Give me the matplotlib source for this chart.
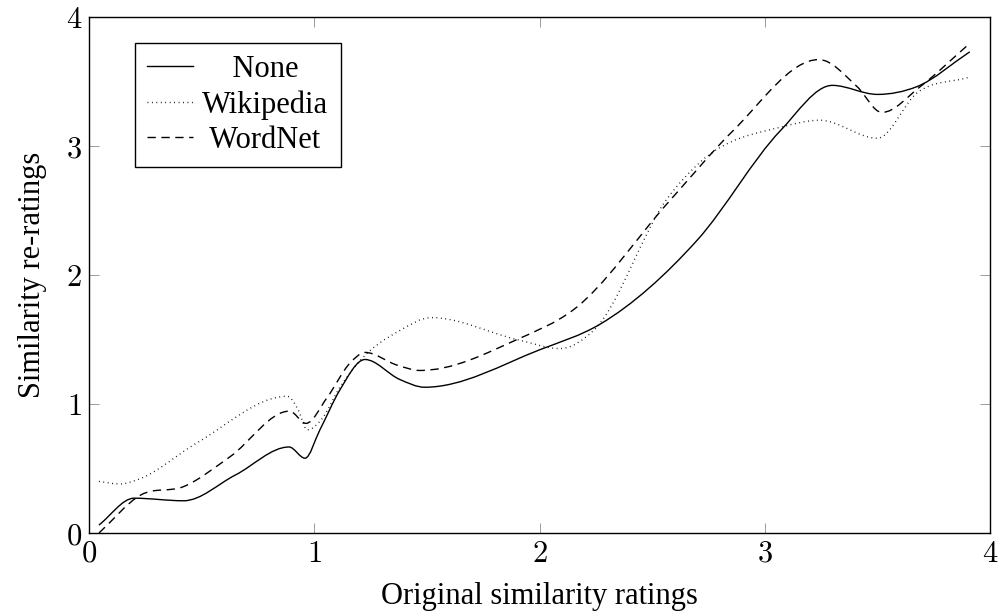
import numpy as np
import matplotlib
matplotlib.use("Agg")
from matplotlib import pyplot as plt
from matplotlib.path import Path
from matplotlib.patches import PathPatch
from matplotlib.lines import Line2D
from matplotlib.ticker import FuncFormatter

plt.rcParams['font.family'] = ['Liberation Serif', 'DejaVu Serif']
plt.rcParams['mathtext.fontset'] = 'cm'

# original rating (x) vs. re-rating (y) for each condition
none_x = [0.044, 0.20, 0.42, 0.65, 0.888, 0.959, 1.025, 1.114, 1.225, 1.38, 1.49, 2.00, 2.27, 2.70, 3.07, 3.30, 3.50, 3.675, 3.91]
none_y = [0.062, 0.27, 0.25, 0.45, 0.667, 0.58, 0.80, 1.11, 1.345, 1.19, 1.13, 1.42, 1.62, 2.27, 3.12, 3.47, 3.40, 3.46, 3.73]

wiki_x = [0.044, 0.14, 0.21, 0.48, 0.88, 0.93, 0.968, 1.03, 1.114, 1.20, 1.38, 1.52, 1.90, 2.09, 2.24, 2.57, 2.71, 3.08, 3.245, 3.50, 3.675, 3.90]
wiki_y = [0.40, 0.38, 0.41, 0.70, 1.06, 0.95, 0.80, 0.876, 1.13, 1.33, 1.57, 1.67, 1.50, 1.43, 1.57, 2.60, 2.87, 3.15, 3.20, 3.06, 3.41, 3.53]

wn_x = [0.044, 0.23, 0.42, 0.625, 0.89, 0.963, 1.057, 1.16, 1.225, 1.37, 1.47, 1.90, 2.15, 2.57, 2.86, 3.24, 3.41, 3.52, 3.69, 3.90]
wn_y = [0.0, 0.295, 0.36, 0.59, 0.945, 0.85, 1.05, 1.32, 1.40, 1.30, 1.26, 1.50, 1.73, 2.56, 3.12, 3.67, 3.46, 3.26, 3.46, 3.78]

labels = ['None', 'Wikipedia', 'WordNet']
ticks = [0, 1, 2, 3, 4]


def smooth_path(xs, ys):
    # cubic hermite segments as bezier curves; flat tangent at local extrema
    x = np.asarray(xs, float)
    y = np.asarray(ys, float)
    h = np.diff(x)
    d = np.diff(y) / h
    m = np.empty_like(x)
    m[0], m[-1] = d[0], d[-1]
    for i in range(1, len(x) - 1):
        if d[i - 1] * d[i] <= 0:
            m[i] = 0.0
        else:
            m[i] = (h[i - 1] * d[i] + h[i] * d[i - 1]) / (h[i - 1] + h[i])
    verts = [(x[0], y[0])]
    codes = [Path.MOVETO]
    for i in range(len(x) - 1):
        verts += [(x[i] + h[i] / 3, y[i] + m[i] * h[i] / 3),
                  (x[i + 1] - h[i] / 3, y[i + 1] - m[i + 1] * h[i] / 3),
                  (x[i + 1], y[i + 1])]
        codes += [Path.CURVE4] * 3
    return Path(verts, codes)


styles = [
    dict(linestyle='-'),
    dict(linestyle=(0, (0.6, 2.6))),
    dict(linestyle=(0, (6, 4))),
]

fig = plt.figure(figsize=(9.98, 6.16), dpi=100)
ax = fig.add_axes([0.0892, 0.1347, 0.9028, 0.8377])

handles = []
for (xs, ys), st, lab in zip([(none_x, none_y), (wiki_x, wiki_y), (wn_x, wn_y)], styles, labels):
    patch = PathPatch(smooth_path(xs, ys), fill=False, edgecolor='black', lw=1.0, **st)
    ax.add_patch(patch)
    handles.append(Line2D([], [], color='black', lw=1.0, **st))

ax.set_xlim(0, 4)
ax.set_ylim(0, 4)
ax.set_xticks(ticks)
ax.set_yticks(ticks)
fmt = FuncFormatter(lambda v, pos: r'$%d$' % v)
ax.xaxis.set_major_formatter(fmt)
ax.yaxis.set_major_formatter(fmt)
ax.tick_params(direction='in', length=7, width=0.6, color='0.55', labelsize=22,
               top=True, right=True, pad=5)
for s in ax.spines.values():
    s.set_linewidth(1.0)

ax.set_xlabel('Original similarity ratings', fontsize=22)
ax.set_ylabel('Similarity re-ratings', fontsize=22)
ax.xaxis.set_label_coords(0.5, -0.095)
ax.yaxis.set_label_coords(-0.047, 0.5)

leg = ax.legend(handles, ['    None', 'Wikipedia', ' WordNet'], loc='upper left',
                bbox_to_anchor=(0.051, 0.95), borderaxespad=0, fontsize=22,
                frameon=True, fancybox=False, edgecolor='black', framealpha=1,
                handlelength=1.5, handletextpad=0.3, labelspacing=0.2,
                borderpad=0.4)
leg.get_frame().set_linewidth(1.0)

fig.savefig('out.png', dpi=100)
